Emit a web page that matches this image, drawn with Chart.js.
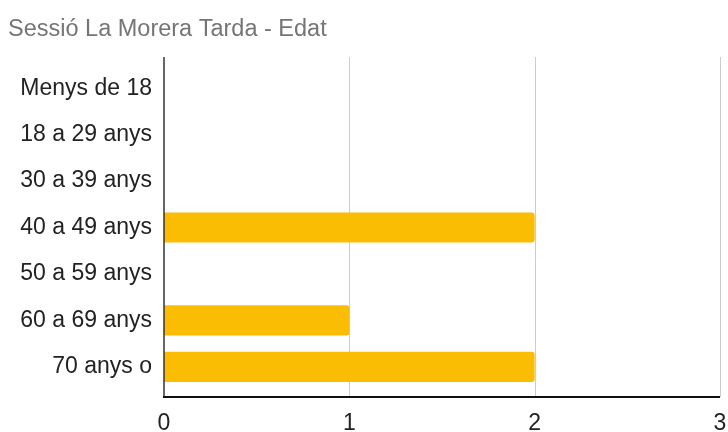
<!DOCTYPE html>
<html>
<head>
<meta charset="utf-8">
<title>Sessió La Morera Tarda - Edat</title>
<script src="https://cdn.jsdelivr.net/npm/chart.js@4/dist/chart.umd.min.js"></script>
<style>
    html, body { margin: 0; padding: 0; background: #fff; }
    #wrap { width: 728px; height: 432px; position: relative; }
</style>
</head>
<body>
<div id="wrap"><canvas id="edatChart"></canvas></div>
<script>
// dades
const categories = ['Menys de 18', '18 a 29 anys', '30 a 39 anys', '40 a 49 anys', '50 a 59 anys', '60 a 69 anys', '70 anys o'];
const counts = [0, 0, 0, 2, 0, 1, 2];
const xTicks = [0, 1, 2, 3];

const FONT = '"Liberation Sans", Arial, sans-serif';

// grid lines and axis lines that run a little past the plot area
const framePlugin = {
    id: 'frame',
    beforeDatasetsDraw(chart) {
        const { ctx, chartArea, scales } = chart;
        const top = chartArea.top - 8;
        const bottom = chartArea.bottom + 7;
        ctx.save();
        ctx.strokeStyle = '#cccccc';
        ctx.lineWidth = 1;
        xTicks.slice(1).forEach(v => {
            const x = Math.round(scales.x.getPixelForValue(v)) + 0.5;
            ctx.beginPath();
            ctx.moveTo(x, top);
            ctx.lineTo(x, bottom);
            ctx.stroke();
        });
        ctx.restore();
    },
    afterDatasetsDraw(chart) {
        const { ctx, chartArea, scales } = chart;
        const top = chartArea.top - 8;
        const bottom = chartArea.bottom + 7;
        const x0 = scales.x.getPixelForValue(xTicks[0]);
        const x3 = scales.x.getPixelForValue(xTicks[xTicks.length - 1]);
        ctx.save();
        ctx.strokeStyle = '#333333';
        ctx.lineWidth = 1.5;
        ctx.beginPath();
        ctx.moveTo(x0, top);
        ctx.lineTo(x0, bottom);
        ctx.stroke();
        ctx.strokeStyle = '#111111';
        ctx.lineWidth = 2;
        ctx.beginPath();
        ctx.moveTo(x0 - 1, bottom);
        ctx.lineTo(x3, bottom);
        ctx.stroke();
        ctx.restore();
    }
};

function initEdatChart() {
    const ctx = document.getElementById('edatChart').getContext('2d');
    new Chart(ctx, {
        type: 'bar',
        data: {
            labels: categories,
            datasets: [{
                label: 'Edat',
                data: counts,
                backgroundColor: '#fbbc04',
                borderWidth: 0,
                borderRadius: 3,
                barPercentage: 0.65,
                categoryPercentage: 1
            }]
        },
        options: {
            indexAxis: 'y',
            responsive: true,
            maintainAspectRatio: false,
            animation: false,
            layout: { padding: { left: 8, right: 8, top: 0, bottom: 0 } },
            scales: {
                x: {
                    min: 0,
                    max: 3,
                    grid: { display: false, drawTicks: false },
                    border: { display: false },
                    afterBuildTicks: scale => {
                        scale.ticks = xTicks.map(v => ({ value: v }));
                    },
                    afterFit: scale => {
                        scale.height = 42;
                        scale.paddingLeft = 0;
                        scale.paddingRight = 0;
                    },
                    ticks: {
                        padding: 20,
                        color: '#222222',
                        font: { family: FONT, size: 23 }
                    }
                },
                y: {
                    grid: { display: false, drawTicks: false },
                    border: { display: false },
                    afterFit: scale => { scale.width = 156; },
                    ticks: {
                        padding: 12,
                        color: '#222222',
                        font: { family: FONT, size: 23 }
                    }
                }
            },
            plugins: {
                legend: { display: false },
                tooltip: { enabled: false },
                title: {
                    display: true,
                    text: 'Sessió La Morera Tarda - Edat',
                    align: 'start',
                    color: '#757575',
                    font: { family: FONT, size: 23.5, weight: 'normal' },
                    padding: { top: 15, bottom: 21.8 }
                }
            }
        },
        plugins: [framePlugin]
    });
}

document.addEventListener('DOMContentLoaded', function() {
    initEdatChart();
});
</script>
</body>
</html>
